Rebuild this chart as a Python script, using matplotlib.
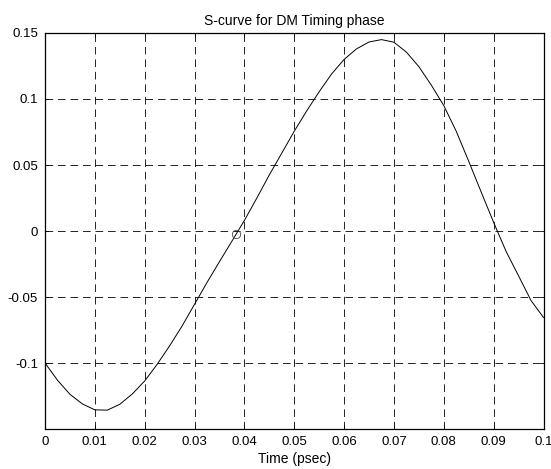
import matplotlib
matplotlib.use("Agg")
import matplotlib.pyplot as plt

plt.rcParams['font.family'] = ['Liberation Sans', 'DejaVu Sans']
plt.rcParams['lines.scale_dashes'] = False

# S-curve samples: timing offset (psec) vs detector output
time_psec = [0.0, 0.0025, 0.005, 0.0075, 0.01, 0.0125, 0.015, 0.0175, 0.02, 0.0225,
             0.025, 0.0275, 0.03, 0.0325, 0.035, 0.0375, 0.04, 0.0425, 0.045, 0.0475,
             0.05, 0.0525, 0.055, 0.0575, 0.06, 0.0625, 0.065, 0.0675, 0.07, 0.0725,
             0.075, 0.0775, 0.08, 0.0825, 0.085, 0.0875, 0.09, 0.0925, 0.095, 0.0975, 0.1]
s_curve = [-0.100, -0.113, -0.1237, -0.131, -0.1355, -0.1357, -0.1313, -0.1235, -0.1136, -0.1010,
           -0.087, -0.072, -0.0555, -0.039, -0.0232, -0.0077, 0.008, 0.025, 0.0425, 0.059,
           0.0756, 0.091, 0.1055, 0.1190, 0.1300, 0.1380, 0.1432, 0.1450, 0.1430, 0.1355,
           0.1245, 0.1105, 0.0950, 0.0755, 0.0528, 0.0295, 0.0065, -0.0155, -0.034, -0.0527, -0.0655]

# Lock point marked on the curve
lock_time = [0.0383]
lock_value = [-0.0025]

x_ticks = [0, 0.01, 0.02, 0.03, 0.04, 0.05, 0.06, 0.07, 0.08, 0.09, 0.1]
x_tick_labels = ['0', '0.01', '0.02', '0.03', '0.04', '0.05', '0.06', '0.07', '0.08', '0.09', '0.1']
y_ticks = [-0.1, -0.05, 0, 0.05, 0.1, 0.15]
y_tick_labels = ['-0.1', '-0.05', '0', '0.05', '0.1', '0.15']

fig = plt.figure(figsize=(5.51, 4.69), dpi=100)
ax = fig.add_axes([45 / 551, 1 - 429 / 469, 498.5 / 551, 396 / 469])

ax.plot(time_psec, s_curve, color='black', linewidth=0.7)
ax.plot(lock_time, lock_value, linestyle='none', marker='o', markersize=6,
        markerfacecolor='none', markeredgecolor='#444444', markeredgewidth=0.6)

ax.set_xlim(0, 0.1)
ax.set_ylim(-0.15, 0.15)
ax.set_xticks(x_ticks)
ax.set_xticklabels(x_tick_labels)
ax.set_yticks(y_ticks)
ax.set_yticklabels(y_tick_labels)

ax.grid(True, color='black', linestyle=(0, (5.5, 3.5)), linewidth=0.6)
ax.tick_params(direction='in', length=3, width=0.6, top=True, right=True,
               labelsize=9.5, pad=5, colors='black')
for spine in ax.spines.values():
    spine.set_linewidth(0.9)

ax.set_title('S-curve for DM Timing phase', fontsize=10, pad=6)
ax.set_xlabel('Time (psec)', fontsize=10, labelpad=3)

fig.savefig('out.png', dpi=100)
